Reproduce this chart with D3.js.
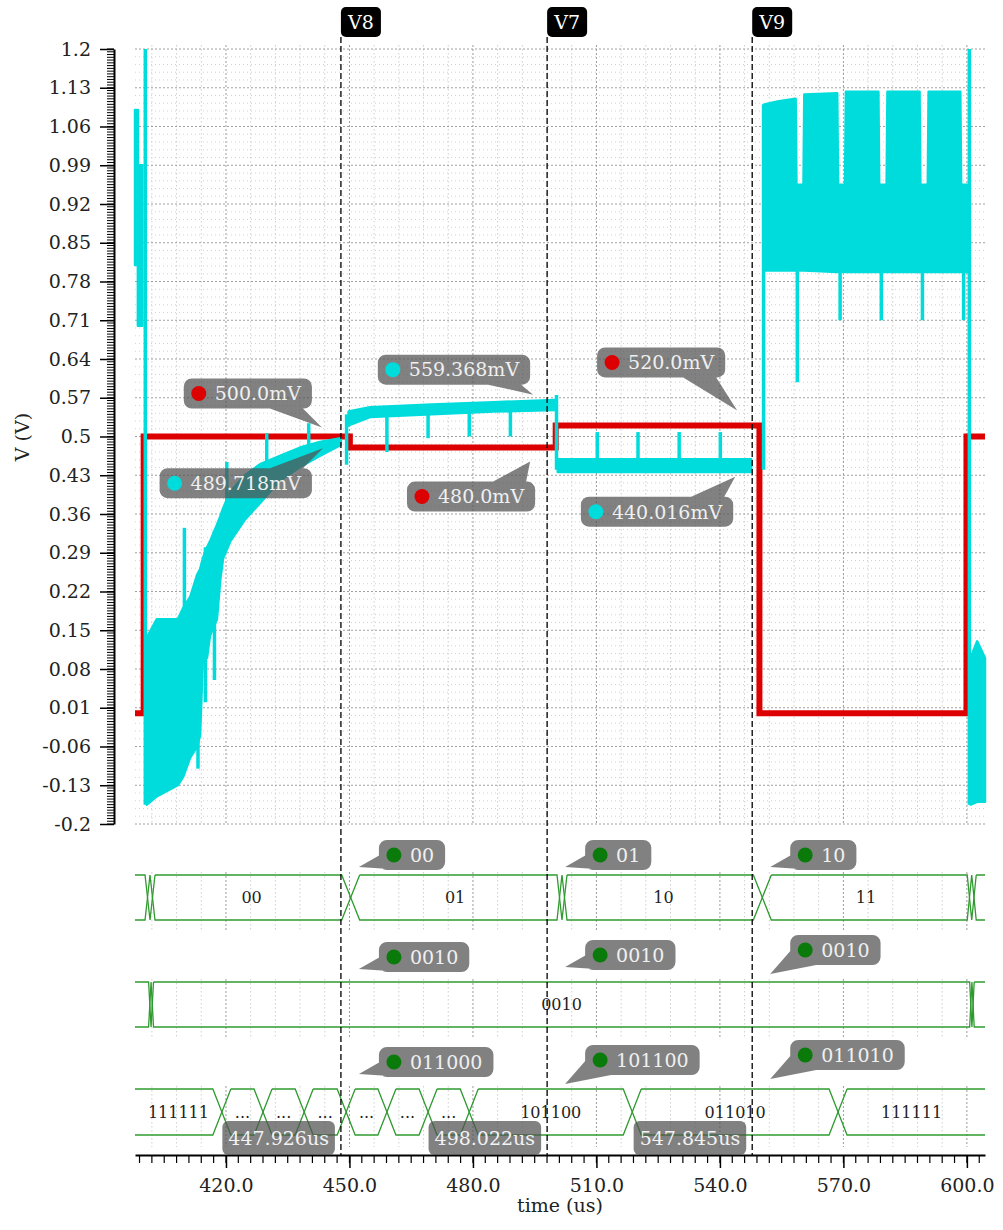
<!DOCTYPE html>
<html>
<head>
<meta charset="utf-8">
<script src="https://cdn.jsdelivr.net/npm/d3@7"></script>
<style>
  body { margin: 0; background: #fff; }
  svg { display: block; }
  text { font-family: "DejaVu Serif", serif; }
</style>
</head>
<body>
<svg id="chart" width="1003" height="1230"></svg>
<script>
// ---------- data ----------
const timeRange = [397.9, 604.4];          // us
const voltRange = [-0.2, 1.2];             // V
const voltTicks = [1.2, 1.13, 1.06, 0.99, 0.92, 0.85, 0.78, 0.71, 0.64, 0.57, 0.5,
                   0.43, 0.36, 0.29, 0.22, 0.15, 0.08, 0.01, -0.06, -0.13, -0.2];
const voltTickLabels = ["1.2", "1.13", "1.06", "0.99", "0.92", "0.85", "0.78", "0.71", "0.64", "0.57", "0.5",
                        "0.43", "0.36", "0.29", "0.22", "0.15", "0.08", "0.01", "-0.06", "-0.13", "-0.2"];
const timeTicks = [420, 450, 480, 510, 540, 570, 600];

// reference voltage (red): [time, volts]
const refTrace = [
  [397.9, 0.0], [400.0, 0.0], [400.0, 0.5], [450.1, 0.5], [450.1, 0.48],
  [500.1, 0.48], [500.1, 0.52], [549.6, 0.52], [549.6, 0.0], [599.9, 0.0],
  [599.9, 0.5], [604.4, 0.5]
];

// output node (cyan): fast ripple drawn as envelopes [time, low, high]
const outEnvelopes = [
  [[397.9, 0.81, 1.09], [398.6, 0.81, 1.09]],
  [[398.6, 0.70, 0.99], [399.7, 0.70, 0.99]],
  [[400.8, -0.165, 0.137], [403.2, -0.15, 0.17], [408.3, -0.13, 0.17], [409.6, -0.115, 0.19],
   [411.3, -0.08, 0.21], [413.0, -0.06, 0.25], [413.7, -0.04, 0.26], [414.4, 0.10, 0.28],
   [415.4, 0.10, 0.30], [416.1, 0.14, 0.31], [417.8, 0.17, 0.34], [418.6, 0.24, 0.355],
   [419.3, 0.28, 0.37], [421.0, 0.31, 0.40], [424.6, 0.35, 0.43], [428.3, 0.38, 0.45],
   [433.1, 0.42, 0.465], [438.0, 0.445, 0.48], [442.8, 0.465, 0.49], [447.9, 0.485, 0.497]],
  [[449.8, 0.52, 0.545], [455.0, 0.535, 0.553], [470.0, 0.54, 0.558], [485.0, 0.545, 0.562], [500.0, 0.548, 0.566]],
  [[500.6, 0.436, 0.459], [547.6, 0.436, 0.459]],
  [[550.8, 0.80, 1.10], [554.0, 0.80, 1.105], [558.4, 0.80, 1.11], [558.6, 0.80, 0.955], [560.3, 0.80, 0.955],
   [560.5, 0.80, 1.118], [568.5, 0.797, 1.12], [568.7, 0.797, 0.955], [570.4, 0.797, 0.955],
   [570.6, 0.797, 1.123], [578.5, 0.797, 1.123], [578.7, 0.797, 0.955], [580.5, 0.797, 0.955],
   [580.7, 0.797, 1.123], [588.5, 0.797, 1.123], [588.7, 0.797, 0.955], [590.5, 0.797, 0.955],
   [590.7, 0.797, 1.123], [598.4, 0.797, 1.123], [598.6, 0.797, 0.955], [600.3, 0.797, 0.955]],
  [[600.9, -0.165, 0.10], [602.5, -0.16, 0.13], [604.4, -0.16, 0.10]]
];
// output node glitches: [time, from, to]
const outSpikes = [
  [400.4, -0.165, 1.2], [409.9, 0.15, 0.335], [411.3, -0.08, 0.19], [413.2, -0.10, 0.24],
  [415.0, 0.02, 0.30], [417.2, 0.06, 0.33], [420.2, 0.38, 0.454],
  [429.9, 0.43, 0.506], [440.1, 0.47, 0.524], [449.3, 0.449, 0.54], [459.1, 0.472, 0.545],
  [469.1, 0.497, 0.55], [479.1, 0.50, 0.555], [489.1, 0.50, 0.56], [500.3, 0.44, 0.575],
  [510.2, 0.45, 0.508], [520.1, 0.45, 0.508], [530.1, 0.45, 0.508], [540.1, 0.45, 0.508],
  [550.6, 0.44, 1.10], [558.8, 0.598, 0.80], [569.2, 0.71, 0.80], [579.2, 0.71, 0.80],
  [589.2, 0.71, 0.80], [599.2, 0.71, 0.80], [600.6, -0.165, 1.2]
];

// cursors
const cursorNames = ["V8", "V7", "V9"];
const cursorTimes = [447.926, 498.022, 547.845];
const cursorRef = [0.5, 0.48, 0.52];
const cursorOut = [0.489718, 0.559368, 0.440016];

// digital buses: transition times and the value held in each interval (null = not shown)
const busSelEdges = [400.94, 402.15, 450.3, 501.03, 502.24, 550.3, 600.63, 601.72];
const busSelValues = [null, null, "00", "01", null, "10", "11", null, null];
const busCfgEdges = [401.5, 402.1, 600.95, 601.5];
const busCfgValues = [null, null, "0010", null, null];
const busCodeEdges = [419.0, 429.0, 439.0, 449.2, 459.1, 469.1, 479.1, 518.7, 568.7];
const busCodeValues = ["111111", null, null, "011000", null, null, null, "101100", "011010", "111111"];
const cursorSel = ["00", "01", "10"];
const cursorCfg = ["0010", "0010", "0010"];
const cursorCode = ["011000", "101100", "011010"];

// ---------- layout ----------
const svg = d3.select("#chart");
const x = d3.scaleLinear().domain(timeRange).range([135, 985]);
const y = d3.scaleLinear().domain(voltRange).range([824, 49]);
const axisY = 1155;
const RED = "#dd0000", CYAN = "#00dcdc", GREEN = "#2f9a2f", DOTGREEN = "#0a7a0a";
const BUBBLE = "rgba(80,80,80,0.72)";
const buses = [
  { top: 875, bottom: 920, edges: busSelEdges, values: busSelValues, cursor: cursorSel, lift: [5, 5, 5] },
  { top: 982, bottom: 1027, edges: busCfgEdges, values: busCfgValues, cursor: cursorCfg, lift: [10, 12, 17] },
  { top: 1089, bottom: 1135, edges: busCodeEdges, values: busCodeValues, cursor: cursorCode, lift: [12, 14, 19] }
];

// ---------- grid ----------
const grid = svg.append("g");
const gridTimes = d3.range(402, 604, 6);
const isMajorT = t => Math.abs(t % 30) < 1e-6;
function vGrid(y0, y1) {
  grid.selectAll(null).data(gridTimes).enter().append("line")
    .attr("x1", d => x(d)).attr("x2", d => x(d))
    .attr("y1", y0).attr("y2", y1)
    .attr("stroke", d => isMajorT(d) ? "#9c9c9c" : "#cfcfcf")
    .attr("stroke-width", 1)
    .attr("stroke-dasharray", d => isMajorT(d) ? "2,2" : "1.5,2.5");
}
vGrid(45, 824);
buses.forEach((b, i) => vGrid(b.top - 3, b.bottom + (i === 2 ? 12 : 10)));
const hVals = d3.range(0, 101).map(i => +(voltRange[0] + i * 0.014).toFixed(3));
grid.selectAll(null).data(hVals).enter().append("line")
  .attr("x1", 135).attr("x2", 985)
  .attr("y1", d => y(d)).attr("y2", d => y(d))
  .attr("stroke", (d, i) => i % 5 === 0 ? "#a0a0a0" : "#d3d3d3")
  .attr("stroke-width", 1)
  .attr("stroke-dasharray", (d, i) => i % 5 === 0 ? "2,2" : "1,3");

// ---------- analog traces ----------
const traces = svg.append("g");
traces.append("path")
  .datum(refTrace)
  .attr("d", d3.line().x(d => x(d[0])).y(d => y(d[1])))
  .attr("fill", "none").attr("stroke", RED).attr("stroke-width", 6)
  .attr("stroke-linejoin", "miter");

const env = d3.area().x(d => x(d[0])).y0(d => y(d[1])).y1(d => y(d[2]));
traces.selectAll(null).data(outEnvelopes).enter().append("path")
  .attr("d", env)
  .attr("fill", CYAN).attr("stroke", CYAN).attr("stroke-width", 2.5)
  .attr("stroke-linejoin", "round");
traces.selectAll(null).data(outSpikes).enter().append("line")
  .attr("x1", d => x(d[0])).attr("x2", d => x(d[0]))
  .attr("y1", d => y(d[1])).attr("y2", d => y(d[2]))
  .attr("stroke", CYAN).attr("stroke-width", 3.5);

// ---------- buses ----------
const busG = svg.append("g");
buses.forEach(b => {
  const mid = (b.top + b.bottom) / 2;
  const xs = b.edges.map(x);
  const hw = xs.map((xe, j) => {
    const l = j === 0 ? Infinity : xe - xs[j - 1];
    const r = j === xs.length - 1 ? Infinity : xs[j + 1] - xe;
    return Math.min(9, l / 2, r / 2);
  });
  const bounds = [x(timeRange[0]), ...xs, x(timeRange[1])];
  for (let i = 0; i < bounds.length - 1; i++) {
    const openL = i === 0, openR = i === bounds.length - 2;
    const xl = bounds[i], xr = bounds[i + 1];
    const a = openL ? xl : xl + hw[i - 1];
    const c = openR ? xr : xr - hw[i];
    const p = d3.path();
    p.moveTo(a, b.top); p.lineTo(c, b.top);
    if (openR) p.moveTo(c, b.bottom); else { p.lineTo(xr, mid); p.lineTo(c, b.bottom); }
    p.lineTo(a, b.bottom);
    if (!openL) { p.lineTo(xl, mid); p.lineTo(a, b.top); }
    busG.append("path").attr("d", p.toString())
      .attr("fill", "none").attr("stroke", GREEN).attr("stroke-width", 1.3);
    const room = c - a;
    const v = b.values[i];
    let label = null;
    if (room > 18) {
      label = v;
      if (v !== null) {
        const probe = busG.append("text").attr("font-size", 16).text(v);
        if (probe.node().getComputedTextLength() + 6 > room) label = "...";
        probe.remove();
      } else label = "...";
    }
    if (label) {
      busG.append("text").attr("x", (xl + xr) / 2).attr("y", mid)
        .attr("dy", "0.36em").attr("text-anchor", "middle")
        .attr("font-size", 16).attr("fill", "#222").text(label);
    }
  }
});

// ---------- axes ----------
const yAxis = d3.axisLeft(y).tickValues(voltTicks)
  .tickFormat((d, i) => voltTickLabels[i]).tickSize(14).tickPadding(9).tickSizeOuter(0);
const gy = svg.append("g").attr("transform", "translate(114,0)").call(yAxis);
gy.attr("font-family", null);
gy.selectAll("text").attr("font-size", 19).attr("fill", "#222");
gy.selectAll(".tick line").attr("stroke-width", 1.5);
gy.select(".domain").attr("stroke-width", 2);
gy.selectAll(null).data(d3.range(-0.2, 1.2001, 0.005)).enter().append("line")
  .attr("x1", -7).attr("x2", 0).attr("y1", d => y(d)).attr("y2", d => y(d))
  .attr("stroke", "#000").attr("stroke-width", 1);

const xAxis = d3.axisBottom(x).tickValues(timeTicks).tickFormat(d3.format(".1f"))
  .tickSize(13).tickPadding(11).tickSizeOuter(0);
const gx = svg.append("g").attr("transform", `translate(0,${axisY})`).call(xAxis);
gx.attr("font-family", null);
gx.selectAll("text").attr("font-size", 19).attr("fill", "#222");
gx.selectAll(".tick line").attr("stroke-width", 1.5);
gx.select(".domain").attr("stroke-width", 2);
gx.selectAll(null).data(d3.range(399, 604, 3)).enter().append("line")
  .attr("x1", d => x(d)).attr("x2", d => x(d)).attr("y1", 0).attr("y2", 8)
  .attr("stroke", "#000").attr("stroke-width", 1.2);

svg.append("text").attr("x", 560).attr("y", 1212).attr("text-anchor", "middle")
  .attr("font-size", 19).attr("fill", "#222").text("time (us)");
svg.append("text").attr("transform", "translate(29,437) rotate(-90)").attr("text-anchor", "middle")
  .attr("font-size", 19).attr("fill", "#222").text("V (V)");

// ---------- cursors ----------
const cur = svg.append("g");
cursorTimes.forEach((t, i) => {
  const px = x(t);
  cur.append("line").attr("x1", px).attr("x2", px).attr("y1", 37).attr("y2", axisY)
    .attr("stroke", "#000").attr("stroke-width", 1.3).attr("stroke-dasharray", "6,3");
  cur.append("rect").attr("x", px).attr("y", 7).attr("width", 40).attr("height", 30)
    .attr("rx", 5).attr("fill", "#000");
  cur.append("text").attr("x", px + 20).attr("y", 22).attr("dy", "0.36em")
    .attr("text-anchor", "middle").attr("font-size", 19).attr("fill", "#fff").text(cursorNames[i]);
  // time readout at the axis
  const tt = cur.append("text").attr("font-size", 19).attr("fill", "#f2f2f2")
    .text(d3.format(".3f")(t) + "us");
  const tw = tt.node().getComputedTextLength();
  const bw = tw + 12;
  cur.insert("rect", "text:last-child").attr("x", px - 6 - bw).attr("y", 1121)
    .attr("width", bw).attr("height", 34).attr("rx", 6).attr("fill", BUBBLE);
  tt.attr("x", px - 6 - bw / 2).attr("y", 1138).attr("dy", "0.36em").attr("text-anchor", "middle");
});

// ---------- value callouts ----------
const callG = svg.append("g");
function bubble(text, dotColor, place, tip) {
  // place: {right|left, top|bottom}; tail drawn toward tip
  const g = callG.append("g");
  const shape = g.append("path").attr("fill", BUBBLE);
  const label = g.append("text").attr("font-size", 19).attr("fill", "#f0f0f0").text(text);
  const tw = label.node().getComputedTextLength();
  const w = 31 + tw + 11, h = 30;
  const left = place.left !== undefined ? place.left : place.right - w;
  const top = place.top !== undefined ? place.top : place.bottom - h;
  const r = 8;
  const p = d3.path();
  p.moveTo(left + r, top); p.lineTo(left + w - r, top); p.arcTo(left + w, top, left + w, top + r, r);
  p.lineTo(left + w, top + h - r); p.arcTo(left + w, top + h, left + w - r, top + h, r);
  p.lineTo(left + r, top + h); p.arcTo(left, top + h, left, top + h - r, r);
  p.lineTo(left, top + r); p.arcTo(left, top, left + r, top, r); p.closePath();
  // tail, wound the same way as the box so the union fills solid
  let base;
  if (tip[1] > top + h && tip[0] > left + w / 2) base = [[left + w - 42, top + h], [left + w - 9, top + h]];
  else if (tip[1] < top && tip[0] > left + w / 2) base = [[left + w - 42, top], [left + w - 9, top]];
  else base = [[left + 1, top + h - 15], [left + 26, top + h]];
  let tri = [base[0], tip, base[1]];
  const area2 = (tri[1][0] - tri[0][0]) * (tri[2][1] - tri[0][1]) - (tri[2][0] - tri[0][0]) * (tri[1][1] - tri[0][1]);
  if (area2 < 0) tri = [base[1], tip, base[0]];
  p.moveTo(tri[0][0], tri[0][1]); p.lineTo(tri[1][0], tri[1][1]); p.lineTo(tri[2][0], tri[2][1]); p.closePath();
  shape.attr("d", p.toString());
  g.append("circle").attr("cx", left + 15).attr("cy", top + h / 2).attr("r", 7.5).attr("fill", dotColor);
  label.attr("x", left + 31).attr("y", top + h / 2).attr("dy", "0.36em");
}

// analog readouts: higher trace labelled above, lower trace below
const analogPlacement = [
  { above: [-29, -28, -19, -9], below: [-29, 26, -18, 6] },
  { above: [-17, -19, -14, -9], below: [-12, 34, -17, 14] },
  { above: [-27, -48, -15, -15], below: [-19, 27, -17, 7] }
];
cursorTimes.forEach((t, i) => {
  const px = x(t);
  const items = [
    { v: cursorRef[i], color: RED, text: d3.format(".1f")(cursorRef[i] * 1000) + "mV" },
    { v: cursorOut[i], color: CYAN, text: d3.format(".3f")(cursorOut[i] * 1000) + "mV" }
  ].sort((a, b) => b.v - a.v);
  const lay = analogPlacement[i];
  const hi = items[0], lo = items[1];
  const pyh = y(hi.v), pyl = y(lo.v);
  bubble(hi.text, hi.color, { right: px + lay.above[0], bottom: pyh + lay.above[1] },
         [px + lay.above[2], pyh + lay.above[3]]);
  bubble(lo.text, lo.color, { right: px + lay.below[0], top: pyl + lay.below[1] },
         [px + lay.below[2], pyl + lay.below[3]]);
});

// bus readouts
buses.forEach(b => {
  cursorTimes.forEach((t, i) => {
    const px = x(t);
    const lift = b.lift[i];
    bubble(b.cursor[i], DOTGREEN, { left: px + 38, bottom: b.top - lift },
           [px + 18, b.top - lift + (lift > 12 ? 12 : 0) - 3]);
  });
});
</script>
</body>
</html>
